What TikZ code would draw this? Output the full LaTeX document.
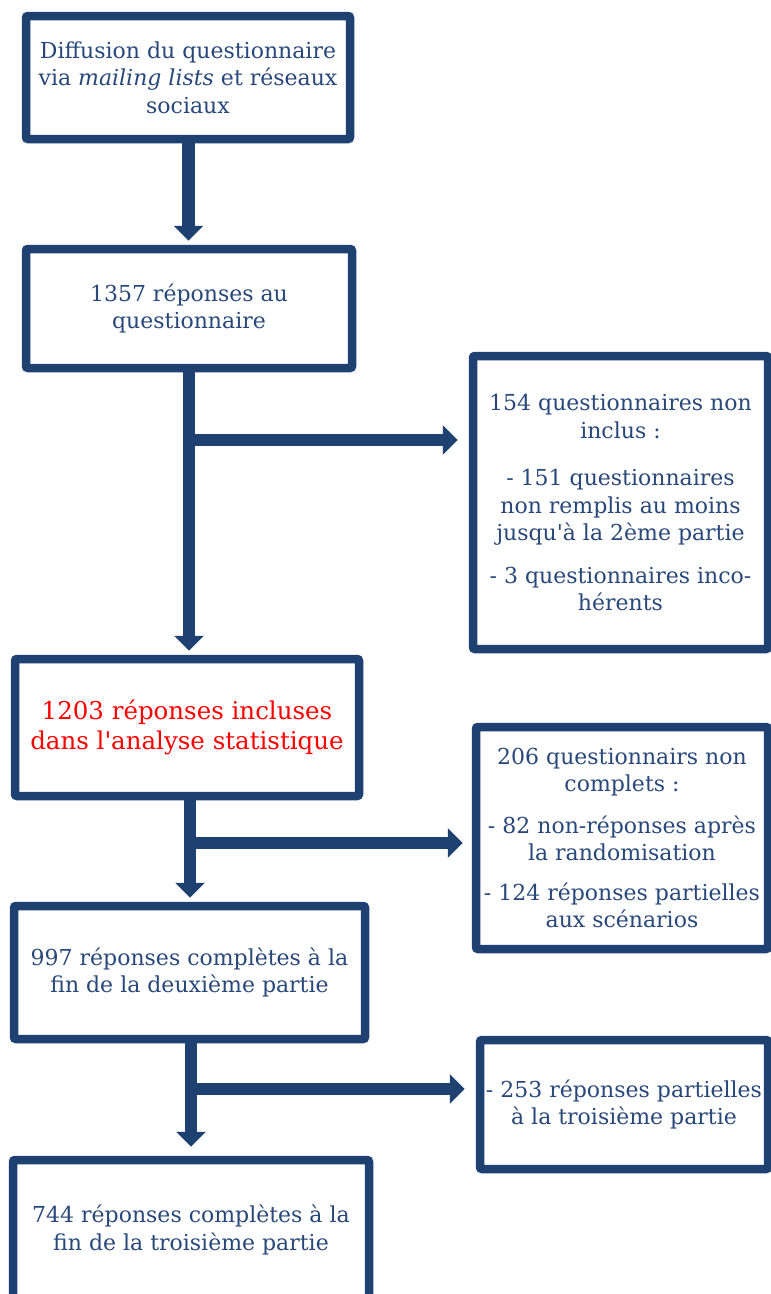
\documentclass[tikz,border=0pt]{standalone}
\usepackage{fontspec}
\setmainfont{DejaVu Serif}
\usetikzlibrary{arrows.meta}
\usetikzlibrary{shadows}

\definecolor{bleufonce}{RGB}{31,65,114}
\definecolor{bleutexte}{RGB}{40,72,122}

\tikzset{
	boite/.style={draw=bleufonce, line width=8.5pt, fill=white, rounded corners=2pt,
		inner sep=0pt, align=center, text=bleutexte,
		font=\fontsize{22}{27.5}\selectfont,
		drop shadow={opacity=0.25, shadow xshift=1.5pt, shadow yshift=-2pt}},
	fleche/.style={bleufonce, line width=12.5pt, -{Triangle[width=29pt,length=15pt]}},
}

\begin{document}
\begin{tikzpicture}[x=1pt, y=-1pt]
	\useasboundingbox (0,0) rectangle (771,1294);
	
	% colonne principale
	\node[boite, minimum width=324pt, minimum height=123pt] (diffusion) at (188, 77.5)
		{Diffusion du questionnaire\\ via \emph{mailing lists} et réseaux\\ sociaux};
	\node[boite, minimum width=326pt, minimum height=119pt] (reponses) at (189, 308.5)
		{1357 réponses au\\ questionnaire};
	\node[boite, minimum width=344pt, minimum height=137pt, text=red,
		font=\fontsize{24.5}{30.5}\selectfont] (incluses) at (187, 727.5)
		{1203 réponses incluses\\ dans l\textquotesingle analyse statistique};
	\node[boite, minimum width=351pt, minimum height=133pt] (deuxieme) at (189.5, 972.5)
		{997 réponses complètes à la\\ fin de la deuxième partie};
	\node[boite, minimum width=356pt, minimum height=140pt] (troisieme) at (191, 1230)
		{744 réponses complètes à la\\ fin de la troisième partie};
	
	% boites de droite
	\node[boite, minimum width=295pt, minimum height=293pt] (nonincl) at (620.5, 502.5)
		{154 questionnaires non\\ inclus :\\[20pt]
		- 151 questionnaires\\ non remplis au moins\\ jusqu\textquotesingle à la 2ème partie\\[15pt]
		- 3 questionnaires inco-\\ hérents};
	\node[boite, minimum width=292pt, minimum height=222pt] (noncompl) at (622, 838)
		{206 questionnairs non\\ complets :\\[14pt]
		- 82 non-réponses après\\ la randomisation\\[12pt]
		- 124 réponses partielles\\ aux scénarios};
	\node[boite, minimum width=288pt, minimum height=129pt] (partiel) at (624, 1104.5)
		{- 253 réponses partielles\\ à la troisième partie};
	
	% fleches
	\coordinate (j0) at (188.5, 190);
	\coordinate (j1) at (189, 440);
	\coordinate (j2) at (190, 843);
	\coordinate (j3) at (191, 1089);
	
	\draw[fleche, shorten >=4pt] (diffusion.south -| j0) -- (reponses.north -| j0);
	\draw[fleche, shorten >=4pt] (reponses.south -| j1) -- (incluses.north -| j1);
	\draw[fleche, shorten >=11pt] (j1) -- (j1 -| nonincl.west);
	\draw[fleche, shorten >=4pt] (incluses.south -| j2) -- (deuxieme.north -| j2);
	\draw[fleche, shorten >=9pt] (j2) -- (j2 -| noncompl.west);
	\draw[fleche, shorten >=9pt] (deuxieme.south -| j3) -- (troisieme.north -| j3);
	\draw[fleche, shorten >=11pt] (j3) -- (j3 -| partiel.west);
	
\end{tikzpicture}
\end{document}
